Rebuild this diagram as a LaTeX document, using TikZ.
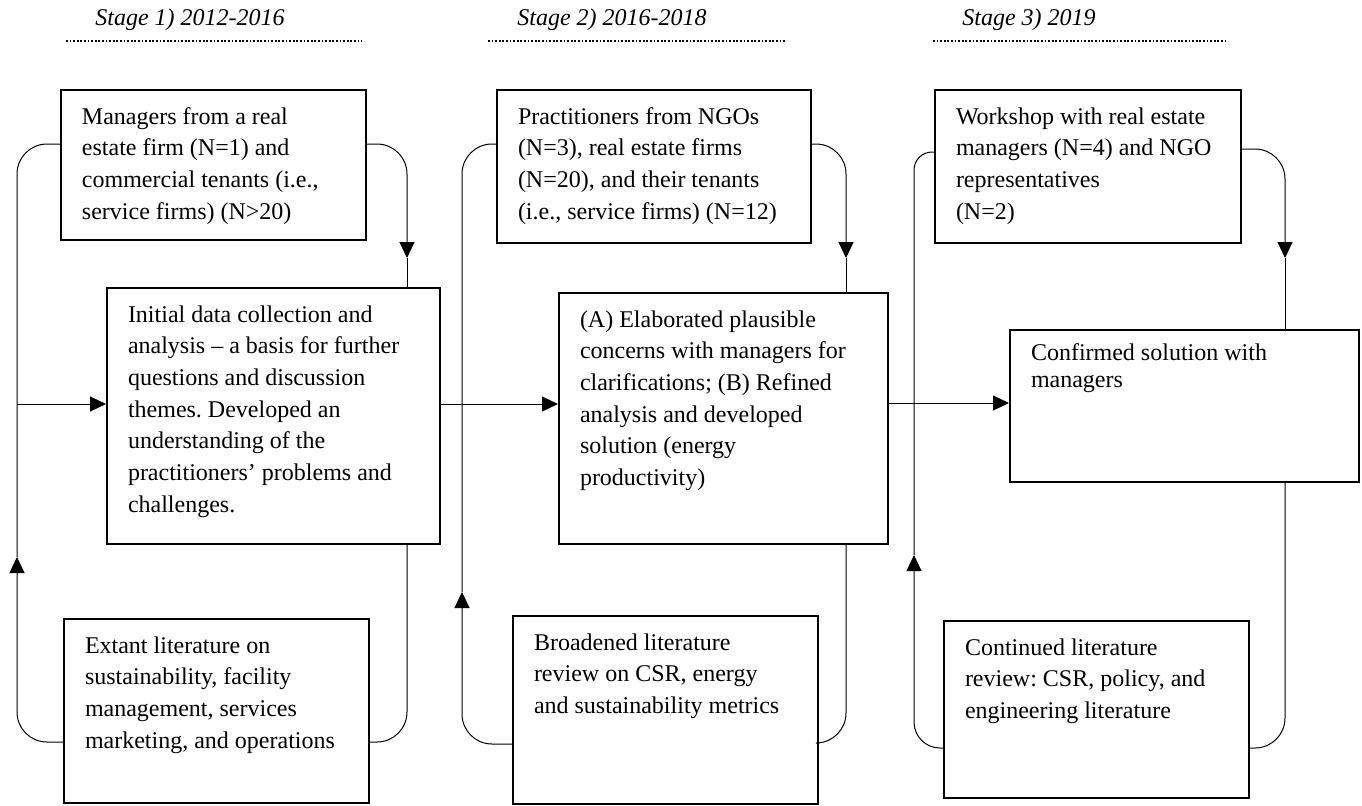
\documentclass[tikz,border=0pt]{standalone}
\usepackage{fontspec}
\setmainfont{Liberation Serif}
\frenchspacing
\usetikzlibrary{arrows.meta}

\tikzset{
  stagebox/.style={draw, line width=1pt, anchor=north west, inner xsep=10.5pt, inner ysep=6pt,
    font=\fontsize{12}{15.85}\selectfont},
  stagetitle/.style={anchor=base west, inner sep=0pt, font=\itshape\fontsize{12}{14}\selectfont},
  stageline/.style={line width=1.2pt, dash pattern=on 0.9pt off 0.9pt},
  rail/.style={line width=0.5pt, rounded corners=15pt},
  flow/.style={-{Triangle[length=8pt,width=7.5pt]}}
}

\begin{document}
\begin{tikzpicture}[x=0.5pt, y=-0.5pt]
    \useasboundingbox (0,0) rectangle (1362,805);

    % stage headings
    \node[stagetitle] (s1) at (95,25) {Stage 1) 2012-2016};
    \node[stagetitle] (s2) at (517,25) {Stage 2) 2016-2018};
    \node[stagetitle] (s3) at (962,25) {Stage 3) 2019};
    \draw[stageline] (66,41) -- (362,41);
    \draw[stageline] (488,41) -- (785,41);
    \draw[stageline] (933,41) -- (1228,41);

    % stage 1
    \node[stagebox] (t1) at (60,89) {\parbox[t][63pt][t]{131.5pt}{\raggedright\strut
        Managers from a real\\ estate firm (N=1) and\\ commercial tenants (i.e.,\\ service firms) (N>20)}};
    \node[stagebox] (m1) at (106,287) {\parbox[t][116pt][t]{145.5pt}{\raggedright\strut
        Initial data collection and\\ analysis – a basis for further\\ questions and discussion\\
        themes. Developed an\\ understanding of the\\ practitioners’ problems and\\ challenges.}};
    \node[stagebox] (b1) at (63,618) {\parbox[t][80pt][t]{131.5pt}{\raggedright\strut
        Extant literature on\\ sustainability, facility\\ management, services\\ marketing, and operations}};

    % stage 2
    \node[stagebox] (t2) at (496,89) {\parbox[t][64.5pt][t]{136pt}{\raggedright\strut
        Practitioners from NGOs\\ (N=3), real estate firms\\ (N=20), and their tenants\\ (i.e., service firms) (N=12)}};
    \node[stagebox] (m2) at (558,292) {\parbox[t][113.5pt][t]{143.5pt}{\raggedright\strut
        (A) Elaborated plausible\\ concerns with managers for\\ clarifications; (B) Refined\\
        analysis and developed\\ solution (energy\\ productivity)}};
    \node[stagebox] (b2) at (512,615) {\parbox[t][82pt][t]{131.5pt}{\raggedright\strut
        Broadened literature\\ review on CSR, energy\\ and sustainability metrics}};

    % stage 3
    \node[stagebox] (t3) at (934,89) {\parbox[t][64.5pt][t]{132pt}{\raggedright\strut
        Workshop with real estate\\ managers (N=4) and NGO\\ representatives\\ (N=2)}};
    \node[stagebox] (m3) at (1009,329) {\parbox[t][64pt][t]{153.5pt}{\raggedright
        \fontsize{12}{13.5}\selectfont\strut Confirmed solution with\\ managers}};
    \node[stagebox] (b3) at (943,620) {\parbox[t][76.5pt][t]{131.5pt}{\raggedright\strut
        Continued literature\\ review: CSR, policy, and\\ engineering literature}};

    % stage 1 connectors
    \draw[rail] (t1.west |- 0,144) -| (17,557);
    \draw[rail, flow] (b1.west |- 0,742) -| (17,557);
    \draw[rail, flow] (17,404) -- (m1.west |- 0,404);
    \draw[rail, flow] (t1.east |- 0,144) -| (407,258);
    \draw[rail] (407,258) -- (m1.north -| 407,0);
    \draw[rail] (b1.east |- 0,742) -| (m1.south -| 407,0);

    % stage 2 connectors
    \draw[rail] (t2.west |- 0,144) -| (462,592);
    \draw[rail, flow] (b2.west |- 0,744) -| (462,592);
    \draw[rail, flow] (m1.east |- 0,404) -- (m2.west |- 0,404);
    \draw[rail, flow] (t2.east |- 0,144) -| (846,258);
    \draw[rail] (846,258) -- (m2.north -| 846,0);
    \draw[rail] (b2.east |- 0,743) -| (m2.south -| 846,0);

    % stage 3 connectors
    \draw[rail, rounded corners=9pt] (t3.west |- 0,152) -| (914,555);
    \draw[rail, flow, rounded corners=13pt] (b3.west |- 0,748) -| (914,555);
    \draw[rail, flow] (m2.east |- 0,403) -- (m3.west |- 0,403);
    \draw[rail, flow] (t3.east |- 0,149) -| (1285,258);
    \draw[rail] (1285,258) -- (m3.north -| 1285,0);
    \draw[rail] (b3.east |- 0,748) -| (m3.south -| 1285,0);

\end{tikzpicture}
\end{document}
